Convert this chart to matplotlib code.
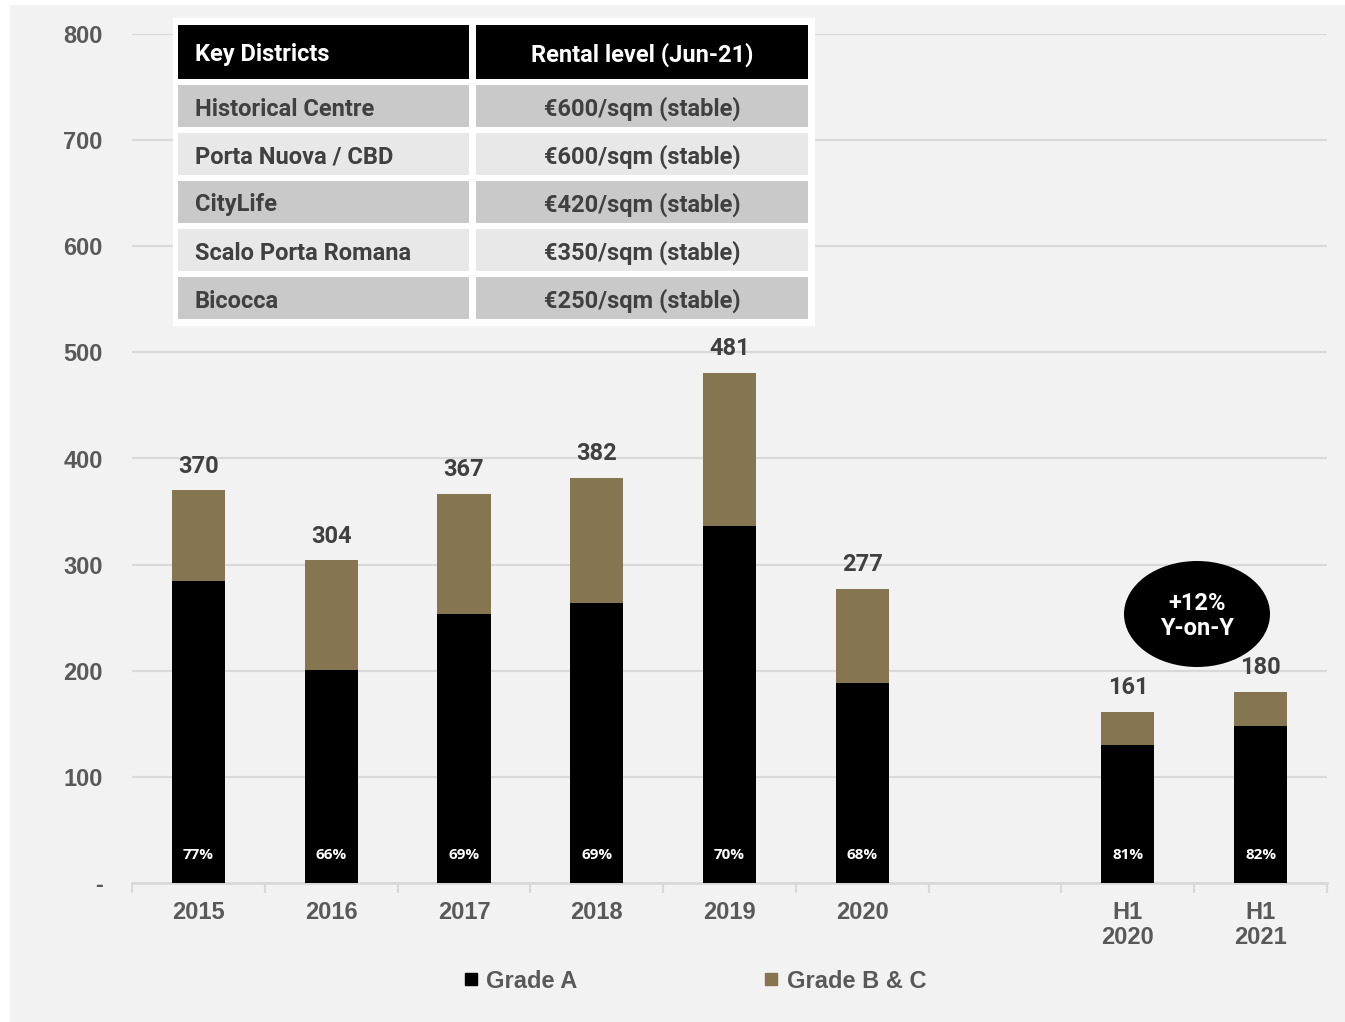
import matplotlib.pyplot as plt
import numpy as np
from matplotlib.patches import Ellipse, Rectangle

# take-up by period (sqm thousands), with Grade A share in %
periods = ['2015', '2016', '2017', '2018', '2019', '2020', '', 'H1\n2020', 'H1\n2021']
totals = [370, 304, 367, 382, 481, 277, None, 161, 180]
grade_a_pct = [77, 66, 69, 69, 70, 68, None, 81, 82]

districts = ['Historical Centre', 'Porta Nuova / CBD', 'CityLife', 'Scalo Porta Romana', 'Bicocca']
rents = ['€600/sqm (stable)', '€600/sqm (stable)', '€420/sqm (stable)', '€350/sqm (stable)', '€250/sqm (stable)']
table_header = ['Key Districts', 'Rental level (Jun-21)']
yoy_text = '+12%\nY-on-Y'

BLACK = '#000000'
BROWN = '#857551'
BG = '#f2f2f2'
TICK = '#595959'
LABEL = '#404040'
GRID = '#d9d9d9'

W, H = 1345, 1022
fig = plt.figure(figsize=(W / 100, H / 100), dpi=100, facecolor='white')
fig.patches.append(Rectangle((10 / W, 0), 1, 1 - 5 / H, transform=fig.transFigure,
                             facecolor=BG, edgecolor='none', zorder=-10))

ax = fig.add_axes([132 / W, 1 - 883 / H, (1327 - 132) / W, (883 - 34) / H])
ax.set_facecolor(BG)

x = np.arange(len(periods))
idx = [i for i, t in enumerate(totals) if t is not None]
tot = np.array([totals[i] for i in idx], dtype=float)
pct = np.array([grade_a_pct[i] for i in idx], dtype=float)
grade_a = tot * pct / 100
grade_bc = tot - grade_a
xs = x[idx]

bw = 0.4
ax.bar(xs, grade_a, bw, color=BLACK, zorder=3)
ax.bar(xs, grade_bc, bw, bottom=grade_a, color=BROWN, zorder=3)

for xi, t, p in zip(xs, tot, pct):
    ax.text(xi, t + 12, f'{t:.0f}', ha='center', va='bottom', fontsize=17,
            fontweight='bold', color=LABEL, family='Roboto', zorder=4)
    ax.text(xi, 26, f'{p:.0f}%', ha='center', va='center', fontsize=11,
            fontweight='bold', color='white', family='Open Sans', zorder=4)

ax.set_xlim(-0.5, len(periods) - 0.5)
ax.set_ylim(0, 800)
ax.set_yticks(range(0, 801, 100))
ax.set_yticklabels(['-'] + [str(v) for v in range(100, 801, 100)])
ax.yaxis.grid(True, color=GRID, linewidth=1.5, zorder=0)
ax.tick_params(axis='y', length=0, pad=21, labelsize=17, labelcolor=TICK)
for lbl in ax.get_yticklabels():
    lbl.set_fontweight('bold')
    lbl.set_family('Liberation Sans')

ax.set_xticks(x)
ax.set_xticklabels(periods, fontsize=17, fontweight='bold', color=TICK,
                   family='Liberation Sans', linespacing=1.1)
ax.set_xticks(np.arange(-0.5, len(periods), 1), minor=True)
ax.tick_params(axis='x', which='major', length=0, pad=13)
ax.tick_params(axis='x', which='minor', length=7, width=1.5, color=GRID)

for s in ['top', 'right', 'left']:
    ax.spines[s].set_visible(False)
ax.spines['bottom'].set_color(GRID)
ax.spines['bottom'].set_linewidth(2)

# Y-on-Y bubble
bubble = Ellipse((1197 / W, 1 - 614 / H), 146 / W, 106 / H, transform=fig.transFigure,
                 facecolor=BLACK, edgecolor='none', zorder=5)
fig.patches.append(bubble)
fig.text(1197 / W, 1 - 616 / H, yoy_text, ha='center', va='center', fontsize=17,
         fontweight='bold', color='white', family='Roboto', linespacing=1.15, zorder=6)

# rental levels table
fig.patches.append(Rectangle((173 / W, 1 - 326 / H), (815 - 173) / W, (326 - 18) / H,
                             transform=fig.transFigure, facecolor='white',
                             edgecolor='none', zorder=7))
col_x = [(178, 469), (476, 808)]
row_y = [(25, 79), (85, 127), (133, 175), (181, 223), (229, 271), (277, 319)]
rows = [table_header] + [[d, r] for d, r in zip(districts, rents)]
for ri, ((y0, y1), cells) in enumerate(zip(row_y, rows)):
    if ri == 0:
        fc, tc = BLACK, 'white'
    else:
        fc, tc = ('#c9c9c9' if ri % 2 == 1 else '#e8e8e8'), LABEL
    for ci, ((x0, x1), txt) in enumerate(zip(col_x, cells)):
        fig.patches.append(Rectangle((x0 / W, 1 - y1 / H), (x1 - x0) / W, (y1 - y0) / H,
                                     transform=fig.transFigure, facecolor=fc,
                                     edgecolor='none', zorder=8))
        yc = 1 - ((y0 + y1) / 2 + 3) / H
        if ci == 0:
            fig.text((x0 + 17) / W, yc, txt, ha='left', va='center', fontsize=17,
                     fontweight='bold', color=tc, family='Roboto', zorder=9)
        else:
            fig.text((x0 + x1) / 2 / W, yc, txt, ha='center', va='center', fontsize=17,
                     fontweight='bold', color=tc, family='Roboto', zorder=9)

# legend
h_a = plt.Line2D([], [], marker='s', linestyle='none', markersize=9, color=BLACK)
h_bc = plt.Line2D([], [], marker='s', linestyle='none', markersize=9, color=BROWN)
leg = fig.legend([h_a, h_bc], ['Grade A', 'Grade B & C'], loc='center',
                 bbox_to_anchor=(695 / W, 1 - 981 / H), ncol=2, frameon=False,
                 handlelength=0.6, handletextpad=0.35, columnspacing=7.9,
                 prop={'family': 'Liberation Sans', 'weight': 'bold', 'size': 17})
for t in leg.get_texts():
    t.set_color(TICK)

fig.savefig('out.png', dpi=100, facecolor=fig.get_facecolor())
